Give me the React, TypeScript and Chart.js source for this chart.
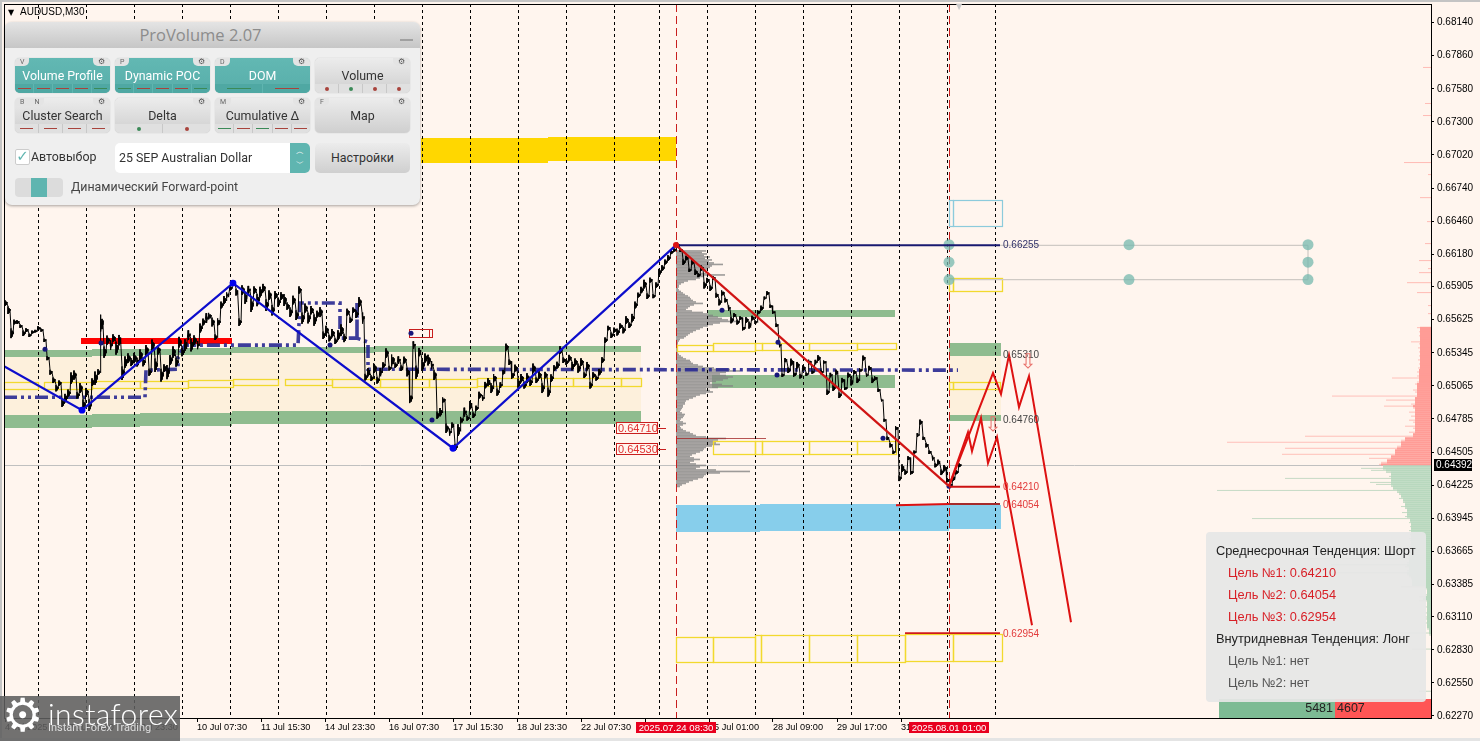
import React, { useEffect, useRef } from "react";
import { Chart, registerables } from "chart.js";

Chart.register(...registerables);

// Prices are stored in points (1e-5); bars are M30 bar numbers on the x scale.
const yTickPoints = [68140, 67860, 67580, 67300, 67020, 66740, 66460, 66180, 65905, 65625, 65345, 65065, 64785, 64505, 64225, 63945, 63665, 63385, 63110, 62830, 62550, 62270];
const xTickBars = [1, 65, 129, 193, 257, 321, 385, 449, 513, 577, 641, 705, 769, 833, 897];
const xTickLabels = ["4 Jul 2025", "7 Jul 15:30", "8 Jul 23:30", "10 Jul 07:30", "11 Jul 15:30", "14 Jul 23:30", "16 Jul 07:30", "17 Jul 15:30", "18 Jul 23:30", "22 Jul 07:30", "23 Jul 15:30", "25 Jul 01:00", "28 Jul 09:00", "29 Jul 17:00", "31 Jul 01:00"];
const separatorBars = [34, 82, 130, 178, 226, 274, 322, 370, 418, 466, 514, 562, 610, 655, 703, 751, 799, 847, 895, 943, 991];
const eventBars = [672, 945];
const lastPrice = 64392;

const priceStartBar = 1;
const priceStepBars = 3;
const pricePoints = [65766, 65706, 65511, 65605, 65605, 65571, 65511, 65537, 65494, 65520, 65528, 65554, 65537, 65452, 65300, 65181, 65113, 65046, 65088, 64919, 64961, 65003, 65130, 65156, 64986, 65046, 64902, 65012, 64902, 65096, 65130, 65181, 65596, 65351, 65452, 65410, 65469, 65384, 65452, 65173, 65266, 65300, 65266, 65300, 65266, 65325, 65266, 65368, 65181, 65410, 65240, 65368, 65156, 65215, 65181, 65283, 65351, 65266, 65435, 65351, 65410, 65494, 65410, 65452, 65410, 65554, 65605, 65639, 65656, 65605, 65478, 65605, 65749, 65791, 65833, 65893, 65935, 65859, 65605, 65876, 65808, 65876, 65749, 65876, 65791, 65859, 65893, 65749, 65833, 65706, 65833, 65774, 65825, 65791, 65740, 65689, 65791, 65664, 65876, 65639, 65723, 65639, 65706, 65622, 65672, 65689, 65494, 65537, 65469, 65511, 65444, 65494, 65537, 65469, 65689, 65622, 65706, 65672, 65774, 65639, 65139, 65181, 65130, 65215, 65113, 65181, 65240, 65342, 65215, 65283, 65240, 65283, 65215, 65283, 65181, 64961, 65410, 65181, 65351, 65240, 65300, 65283, 65240, 65156, 64817, 64842, 64944, 64707, 64673, 64732, 64546, 64690, 64775, 64842, 64791, 64902, 64817, 64876, 64986, 64961, 65071, 65096, 65046, 65130, 65012, 65071, 65181, 65393, 65266, 65156, 65215, 65088, 65130, 65071, 65130, 65096, 65215, 65113, 65156, 65046, 65156, 65012, 65130, 65215, 65240, 65368, 65283, 65266, 65300, 65232, 65266, 65215, 65266, 65156, 65232, 65071, 65156, 65130, 65181, 65283, 65452, 65554, 65494, 65537, 65520, 65571, 65537, 65622, 65579, 65639, 65749, 65833, 65876, 65926, 65825, 65960, 65825, 65918, 66028, 66062, 66113, 66147, 66198, 66215, 66257, 66215, 66113, 66147, 66045, 66113, 66028, 66003, 66062, 65918, 65960, 65893, 65977, 65833, 65774, 65850, 65791, 65723, 65622, 65664, 65605, 65639, 65554, 65622, 65579, 65639, 65605, 65689, 65723, 65808, 65850, 65740, 65689, 65579, 65410, 65156, 65283, 65198, 65266, 65164, 65240, 65147, 65215, 65164, 65266, 65181, 65266, 65300, 65181, 65266, 65012, 65156, 65046, 65181, 64986, 65113, 65046, 65156, 65096, 65181, 65113, 65198, 65300, 65156, 65215, 65113, 65130, 65029, 64944, 64775, 64622, 64563, 64504, 64707, 64283, 64368, 64334, 64453, 64334, 64504, 64648, 64758, 64622, 64563, 64504, 64453, 64393, 64419, 64334, 64368, 64266, 64224, 64283, 64334, 64393];
const priceRanges = [
  30, 40, 52, 25, 20, 18, 30, 20, 18, 16, 14, 20, 16, 18, 22, 26, 30, 34, 28, 40,
  45, 38, 60, 48, 35, 52, 60, 44, 62, 40, 70, 30, 90, 60, 48, 52, 40, 68, 55, 72,
  60, 50, 42, 55, 46, 60, 44, 52, 38, 58, 72, 46, 68, 40, 74, 52, 60, 48, 56, 44,
  60, 52, 66, 50, 44, 48, 36, 52, 34, 46, 30, 40, 36, 42, 30, 26, 30, 36, 40, 50,
  60, 44, 72, 38, 64, 56, 44, 62, 50, 56, 42, 48, 40, 62, 38, 50, 46, 52, 38, 60,
  48, 56, 44, 60, 36, 52, 40, 46, 34, 44, 30, 52, 60, 42, 36, 30, 28, 40, 52, 60,
  36, 44, 30, 52, 36, 44, 30, 50, 26, 60, 28, 40, 30, 36, 44, 52, 40, 70, 44, 60,
  48, 56, 44, 52, 38, 44, 30, 50, 38, 28, 36, 62, 34, 48, 26, 44, 30, 26, 36, 30,
  34, 42, 52, 44, 38, 30, 24, 36, 30, 40, 36, 48, 44, 36, 52, 40, 48, 30, 40, 52,
  34, 48, 40, 30, 36, 40, 30, 28, 34, 44, 38, 48, 40, 30, 44, 36, 30, 26, 34, 30,
  28, 24, 30, 26, 36, 28, 34, 40, 30, 44, 36, 26, 34, 46, 30, 26, 22, 28, 34, 30,
  26, 30, 22, 18, 26, 20, 30, 24, 18, 26, 30, 22, 28, 36, 24, 30, 20, 26, 34, 30,
  24, 30, 34, 20, 26, 18, 24, 30, 36, 24, 18, 22, 26, 16, 20, 18, 16, 20, 24, 18,
  22, 30, 36, 28, 34, 24, 30, 18, 26, 16, 24, 30, 22, 18, 28, 24, 30, 26, 30, 24,
  20, 26, 34, 22, 30, 20, 26, 18, 24, 30, 22, 18, 14, 16, 20, 24, 18, 22, 30, 40,
  26, 20, 24, 16, 20, 26, 18, 24, 20, 26, 22, 26, 30, 34, 26, 24, 28, 22,
];

const zigzagBlueBars = [0, 78, 229, 449, 672];
const zigzagBluePoints = [65232, 64859, 65935, 64537, 66257];
const zigzagRedBars = [672, 945];
const zigzagRedPoints = [66257, 64216];
const forecastABars = [945, 964, 968, 977, 984, 993, 1028];
const forecastAPoints = [64216, 64673, 64512, 64792, 64410, 64631, 63038];
const forecastBBars = [945, 989, 997, 1005, 1015, 1025, 1067];
const forecastBPoints = [64216, 65173, 64995, 65325, 64885, 65147, 63064];

const pocBars = [0, 141, 142, 174, 174, 181, 294, 296, 336, 336, 353, 353, 353, 364, 364, 954];
const pocPoints = [64969, 64969, 65198, 65206, 65308, 65410, 65410, 65766, 65766, 65469, 65469, 65766, 65469, 65435, 65206, 65198];
const pocDotBars = [41, 97, 326, 407, 428, 718, 773, 774, 879, 945];
const pocDotPoints = [65376, 65427, 65410, 65511, 64775, 65706, 65156, 65435, 64622, 64216];

const pivotDotBars = [78, 229, 449];
const pivotDotPoints = [64859, 65935, 64537];
const targetDotBars = [945, 1125, 1304, 945, 1304, 945, 1125, 1304];
const targetDotPoints = [66260, 66260, 66260, 66112, 66112, 65965, 65965, 65965];

const greenZones = [[0, 88, 65368, 65308], [88, 136, 65376, 65319], [136, 182, 65376, 65325], [182, 228, 65384, 65329], [228, 370, 65393, 65340], [370, 637, 65401, 65348], [0, 88, 64817, 64709], [88, 136, 64825, 64715], [136, 228, 64834, 64724], [228, 637, 64851, 64741], [704, 891, 65706, 65647], [708, 891, 65156, 65046], [945, 997, 65427, 65317], [945, 997, 64817, 64766]];
const bisqueZones = [[0, 88, 65308, 64817], [88, 136, 65319, 64825], [136, 228, 65329, 64834], [228, 370, 65340, 64851], [370, 637, 65348, 64851], [945, 997, 65317, 64817]];
const skyZones = [[672, 756, 64055, 63829], [756, 945, 64065, 63840], [945, 997, 64055, 63850]];
const goldZones = [[417, 544, 67163, 66951], [544, 672, 67172, 66968]];
const redBarZones = [[77, 136, 65469, 65418], [136, 228, 65473, 65422]];
const yellowBoxes = [[0, 34, 65096, 65037], [40, 88, 65096, 65037], [88, 136, 65105, 65046], [136, 184, 65105, 65046], [184, 229, 65113, 65054], [229, 274, 65122, 65071], [281, 328, 65122, 65071], [328, 376, 65122, 65054], [376, 425, 65122, 65054], [425, 473, 65122, 65054], [473, 569, 65130, 65063], [569, 617, 65130, 65063], [617, 637, 65130, 65063], [673, 709, 65410, 65359], [709, 751, 65427, 65359], [751, 758, 65427, 65368], [758, 805, 65427, 65368], [805, 853, 65427, 65368], [853, 892, 65429, 65373], [709, 751, 64597, 64487], [751, 758, 64597, 64487], [758, 805, 64597, 64487], [805, 853, 64597, 64487], [853, 892, 64597, 64487], [945, 949, 65096, 65037], [949, 996, 65096, 65037], [945, 949, 65977, 65867], [949, 998, 65977, 65867], [672, 709, 62937, 62725], [709, 751, 62937, 62725], [751, 757, 62954, 62725], [757, 805, 62954, 62729], [805, 853, 62954, 62729], [853, 901, 62954, 62729], [901, 949, 62962, 62733], [949, 998, 62962, 62733]];
const cyanBoxes = [[945, 949, 66638, 66418], [949, 998, 66638, 66418]];
const redBoxes = [[405, 425, 65545, 65477], [425, 428, 65545, 65477]];

const profileTopPoints = 66214;
const profileStepPoints = 12.7;
const profileVolumes = [30, 26, 31, 28, 34, 29, 36, 33, 38, 47, 36, 34, 31, 27, 24, 30, 49, 28, 24, 20, 12, 8, 5, 3, 3, 2, 3, 5, 7, 9, 12, 14, 15, 17, 20, 27, 18, 14, 12, 10, 16, 27, 32, 37, 42, 46, 52, 60, 44, 37, 32, 27, 24, 20, 17, 14, 12, 10, 8, 4, 3, 2, 2, 1, 1, 1, 1, 1, 2, 3, 5, 7, 10, 14, 15, 17, 22, 27, 38, 54, 64, 50, 44, 50, 57, 52, 47, 40, 34, 46, 57, 42, 30, 34, 37, 30, 24, 20, 17, 13, 10, 9, 9, 7, 7, 6, 5, 4, 6, 9, 8, 7, 5, 4, 7, 10, 7, 4, 5, 7, 10, 14, 17, 20, 30, 50, 42, 37, 40, 44, 36, 30, 28, 27, 24, 20, 16, 14, 18, 24, 18, 14, 20, 30, 24, 20, 40, 74, 44, 30, 28, 27, 22, 17, 13, 10, 6, 4];
const sellDepthBottomPoints = 64392;
const sellDepth = [52, 50, 44, 62, 40, 149, 36, 36, 146, 34, 30, 204, 30, 26, 126, 18, 22, 16, 18, 26, 16, 18, 22, 16, 20, 16, 22, 16, 18, 47, 20, 16, 45, 16, 99, 14, 16, 18, 14, 14, 16, 14, 12, 39, 14, 12, 14, 12, 13, 11, 12, 11, 13, 11, 12, 11, 12, 11, 13, 11, 12, 20, 11, 11, 12, 11, 12, 11, 11];
const sellSpikePoints = [67765, 67460, 67358, 66960, 66858, 66663, 66460, 66274, 66130, 66062, 66028, 65943, 65859, 65749, 65681, 65562];
const sellSpikeWidths = [8, 6, 8, 27, 3, 11, 4, 6, 12, 3, 12, 24, 14, 3, 3, 14];
const buyDepth = [48, 70, 60, 45, 40, 42, 146, 40, 61, 55, 40, 38, 214, 34, 32, 30, 32, 28, 28, 26, 30, 26, 24, 29, 24, 26, 179, 21, 22, 20, 21, 20, 22, 20, 21, 20, 22, 21, 20, 21, 22, 20, 21, 22, 24, 22, 129, 22, 24, 100, 26, 22, 24, 96, 24, 22, 20, 19, 19, 19, 30, 6, 4, 4, 6, 12, 8, 12, 4, 4, 6, 4, 4, 6, 4, 6, 6, 4, 6, 4, 4, 4, 2, 32, 2, 0, 0, 0, 0, 0, 0, 19, 0, 0, 0, 0, 0, 0, 0, 0, 0, 0, 0, 0, 0, 0, 0, 0, 0, 0, 0, 0, 12];
const depthBuyTotal = 5481;
const depthSellTotal = 4607;

const levelLabelTexts = ["0.66255", "0.65310", "0.64760", "0.64210", "0.64054", "0.62954"];
const levelLabelPoints = [66255, 65325, 64770, 64210, 64054, 62960];
const levelLabelColors = ["#33336b", "#444444", "#444444", "#e23b3b", "#e23b3b", "#e23b3b"];
const boxedLevelTexts = ["0.64710", "0.64530"];
const boxedLevelPoints = [64710, 64530];
const arrowBars = [1024, 989];
const arrowPoints = [65257, 64724];
const dateTagTexts = ["2025.07.24 08:30", "2025.08.01 01:00"];
const dateTagBars = [672, 945];

const buttonRows = [
  [
    { label: "Volume Profile", on: true, tags: ["V"], marks: "rrrrg" },
    { label: "Dynamic POC", on: true, tags: ["P"], marks: "grrrg" },
    { label: "DOM", on: true, tags: ["D"], marks: "gr" },
    { label: "Volume", on: false, tags: [], marks: "RGRR" },
  ],
  [
    { label: "Cluster Search", on: false, tags: ["B", "N"], marks: "rrrr" },
    { label: "Delta", on: false, tags: [], marks: "GR" },
    { label: "Cumulative Δ", on: false, tags: ["M"], marks: "grgrr" },
    { label: "Map", on: false, tags: ["F"], marks: "" },
  ],
];
const infoLines = [
  { text: "Среднесрочная Тенденция: Шорт", kind: "head" },
  { text: "Цель №1: 0.64210", kind: "red" },
  { text: "Цель №2: 0.64054", kind: "red" },
  { text: "Цель №3: 0.62954", kind: "red" },
  { text: "Внутридневная Тенденция: Лонг", kind: "head" },
  { text: "Цель №1: нет", kind: "mute" },
  { text: "Цель №2: нет", kind: "mute" },
];

const axisFont = { family: "'Liberation Sans', Arial, sans-serif", size: 10 };
const P = (v: number) => v / 1e5;
const series = (bars: number[], pts: number[]) => bars.map((b, i) => ({ x: b, y: P(pts[i]) }));

function rectOf(chart: any, z: number[]) {
  const { x, y } = chart.scales;
  const l = Math.round(x.getPixelForValue(z[0]));
  const r = Math.round(x.getPixelForValue(z[1]));
  const t = Math.round(y.getPixelForValue(P(z[2])));
  const b = Math.round(y.getPixelForValue(P(z[3])));
  return [l, t, r - l, b - t];
}

const backPlugin = {
  id: "backLayer",
  beforeDatasetsDraw(chart: any) {
    const { ctx, chartArea: a, scales } = chart;
    const { x, y } = scales;
    ctx.save();
    const fill = (list: number[][], color: string) => {
      ctx.fillStyle = color;
      list.forEach((z) => {
        const [l, t, w, h] = rectOf(chart, z);
        ctx.fillRect(l, t, w, h);
      });
    };
    fill(bisqueZones, "#fdf0dc");
    fill(greenZones, "#8fbc8f");
    fill(skyZones, "#87ceeb");
    fill(goldZones, "#ffd700");

    // last price line
    const lastY = Math.round(y.getPixelForValue(P(lastPrice))) + 0.5;
    ctx.strokeStyle = "#c0c0c0";
    ctx.lineWidth = 1;
    ctx.beginPath();
    ctx.moveTo(a.left, lastY);
    ctx.lineTo(a.right, lastY);
    ctx.stroke();

    // volume profile
    ctx.fillStyle = "rgba(130,130,130,0.78)";
    const profileLeft = x.getPixelForValue(672);
    profileVolumes.forEach((v, i) => {
      const py = y.getPixelForValue(P(profileTopPoints - i * profileStepPoints));
      ctx.fillRect(profileLeft, py, x.getPixelForValue(672 + v) - profileLeft, 1.6);
    });
    ctx.strokeStyle = "rgba(165,42,42,0.8)";
    ctx.beginPath();
    const ry = Math.round(y.getPixelForValue(P(64622))) + 0.5;
    ctx.moveTo(profileLeft, ry);
    ctx.lineTo(x.getPixelForValue(762), ry);
    ctx.stroke();

    // depth of market on the right edge
    const depth = (list: number[], solid: string, faint: string, rowY: (i: number) => number) => {
      list.forEach((v, i) => {
        const base = Math.min(v, list[i - 1] ?? v, list[i + 1] ?? v);
        const py = rowY(i);
        ctx.fillStyle = solid;
        ctx.fillRect(a.right - base, py, base, 2.2);
        if (v > base) {
          ctx.fillStyle = faint;
          ctx.fillRect(a.right - v, py + 0.5, v - base, 1);
        }
      });
    };
    depth(sellDepth, "#ff9c96", "rgba(255,156,150,0.6)", (i) => y.getPixelForValue(P(sellDepthBottomPoints + (i + 1) * 17)));
    depth(buyDepth, "#b8d8be", "rgba(160,200,170,0.6)", (i) => y.getPixelForValue(P(sellDepthBottomPoints - i * 17)));
    ctx.fillStyle = "rgba(255,156,150,0.65)";
    sellSpikePoints.forEach((p, i) => {
      ctx.fillRect(a.right - sellSpikeWidths[i], y.getPixelForValue(P(p)), sellSpikeWidths[i], 1);
    });

    // period separators
    ctx.strokeStyle = "#000";
    ctx.lineWidth = 1;
    ctx.setLineDash([3, 3]);
    separatorBars.forEach((b) => {
      const px = Math.round(x.getPixelForValue(b)) + 0.5;
      ctx.beginPath();
      ctx.moveTo(px, a.top);
      ctx.lineTo(px, a.bottom);
      ctx.stroke();
    });
    ctx.strokeStyle = "#c81e1e";
    ctx.setLineDash([8, 4]);
    eventBars.forEach((b) => {
      const px = Math.round(x.getPixelForValue(b)) + 0.5;
      ctx.beginPath();
      ctx.moveTo(px, a.top);
      ctx.lineTo(px, a.bottom);
      ctx.stroke();
    });
    ctx.setLineDash([]);

    fill(redBarZones, "#ff0000");
    const outline = (list: number[][], color: string, w: number) => {
      ctx.strokeStyle = color;
      ctx.lineWidth = w;
      list.forEach((z) => {
        const [l, t, rw, rh] = rectOf(chart, z);
        ctx.strokeRect(l + 0.5, t + 0.5, rw, rh);
      });
    };
    outline(yellowBoxes, "#f2d92e", 1.3);
    outline(cyanBoxes, "#8ccbdc", 1.2);
    outline(redBoxes, "#c81e1e", 1);
    ctx.restore();
  },
  afterDraw(chart: any) {
    const { ctx, chartArea: a, scales } = chart;
    const { x, y } = scales;
    ctx.save();
    // frame
    ctx.fillStyle = "#c4c4c4";
    ctx.fillRect(0, 0, 1480, 2);
    ctx.fillRect(0, 0, 2, 741);
    ctx.fillStyle = "#e4e4e4";
    ctx.fillRect(0, 738, 1480, 3);
    ctx.strokeStyle = "#000";
    ctx.lineWidth = 1;
    ctx.strokeRect(a.left + 0.5, a.top + 0.5, a.right - a.left, a.bottom - a.top);

    ctx.textBaseline = "middle";
    ctx.font = "10px 'Liberation Sans', Arial, sans-serif";
    ctx.fillStyle = "#000";
    ctx.fillText("AUDUSD,M30", 20, 12.5);
    ctx.font = "8px 'DejaVu Sans', sans-serif";
    ctx.fillText("▼", 8, 12.5);
    ctx.fillStyle = "#c9c9c9";
    ctx.fillText("▼", x.getPixelForValue(952), 7);

    ctx.font = "10px 'Liberation Sans', Arial, sans-serif";
    levelLabelTexts.forEach((t, i) => {
      ctx.fillStyle = levelLabelColors[i];
      ctx.fillText(t, x.getPixelForValue(999), y.getPixelForValue(P(levelLabelPoints[i])));
    });

    // boxed levels
    ctx.font = "11px 'Liberation Sans', Arial, sans-serif";
    boxedLevelTexts.forEach((t, i) => {
      const py = Math.round(y.getPixelForValue(P(boxedLevelPoints[i])));
      const l = x.getPixelForValue(612);
      ctx.fillStyle = "#fff5ee";
      ctx.fillRect(l, py - 5.5, 41, 11);
      ctx.strokeStyle = "#c81e1e";
      ctx.strokeRect(l + 0.5, py - 5.5, 41, 11);
      ctx.beginPath();
      ctx.moveTo(l + 41, py + 0.5);
      ctx.lineTo(l + 50, py + 0.5);
      ctx.stroke();
      ctx.fillStyle = "#e03030";
      ctx.fillText(t, l + 2, py + 0.5);
    });

    // forecast arrows
    ctx.font = "20px 'DejaVu Sans', sans-serif";
    ctx.fillStyle = "#e8706a";
    ctx.textAlign = "center";
    arrowBars.forEach((b, i) => {
      ctx.fillText("⇩", x.getPixelForValue(b), y.getPixelForValue(P(arrowPoints[i])));
    });
    ctx.textAlign = "left";

    // current price tag
    const ly = Math.round(y.getPixelForValue(P(lastPrice)));
    ctx.fillStyle = "#000";
    ctx.fillRect(a.right + 3, ly - 6, 38, 12);
    ctx.fillStyle = "#fff";
    ctx.font = "10px 'Liberation Sans', Arial, sans-serif";
    ctx.fillText((lastPrice / 1e5).toFixed(5), a.right + 5, ly + 0.5);

    // date tags
    ctx.font = "9.6px 'Liberation Sans', Arial, sans-serif";
    dateTagTexts.forEach((t, i) => {
      const cx = x.getPixelForValue(dateTagBars[i]);
      ctx.fillStyle = "#e8001e";
      ctx.fillRect(cx - 40, a.bottom + 4, 80, 11);
      ctx.fillStyle = "#fff";
      ctx.textAlign = "center";
      ctx.fillText(t, cx, a.bottom + 10);
      ctx.textAlign = "left";
    });

    // depth totals
    const split = x.getPixelForValue(1331);
    const left = x.getPixelForValue(1215);
    ctx.fillStyle = "#7dbb94";
    ctx.fillRect(left, a.bottom - 19, split - left, 19);
    ctx.fillStyle = "#ff5555";
    ctx.fillRect(split, a.bottom - 19, a.right - split, 19);
    ctx.font = "12.5px 'Liberation Sans', Arial, sans-serif";
    ctx.fillStyle = "#222";
    ctx.textAlign = "right";
    ctx.fillText(String(depthBuyTotal), split - 2, a.bottom - 9);
    ctx.textAlign = "left";
    ctx.fillText(String(depthSellTotal), split + 2, a.bottom - 9);
    ctx.restore();
  },
};

function ChartCanvas() {
  const ref = useRef<HTMLCanvasElement | null>(null);
  useEffect(() => {
    const line = (data: any[], color: string, width: number, order: number, extra: any = {}) => ({
      type: "line",
      data,
      borderColor: color,
      backgroundColor: color,
      borderWidth: width,
      pointRadius: 0,
      tension: 0,
      fill: false,
      order,
      ...extra,
    });
    const dots = (data: any[], color: string, radius: number, order: number) => ({
      type: "line",
      data,
      showLine: false,
      borderColor: color,
      backgroundColor: color,
      pointRadius: radius,
      pointBorderWidth: 0,
      order,
    });
    // each stored close carries its stored high-low range, drawn as packed sticks
    const candles = pricePoints.flatMap((p, i) => {
      const b = priceStartBar + i * priceStepBars;
      const r = (priceRanges[i] ?? 20) * 0.8;
      return [
        { x: b, y: P(p + r) },
        { x: b, y: P(p - r) },
        { x: b + 1, y: P(p + r * 0.5) },
        { x: b + 1, y: P(p - r * 0.7) },
        { x: b + 2, y: P(p + r * 0.3) },
        { x: b + 2, y: P(p - r * 0.2) },
      ];
    });
    const chart = new Chart(ref.current as HTMLCanvasElement, {
      type: "line",
      data: {
        datasets: [
          line(series(pocBars, pocPoints), "rgba(40,40,145,0.9)", 3.6, 8, { borderDash: [13, 4, 3, 4, 3, 4] }),
          dots(series(pocDotBars, pocDotPoints), "#16167a", 2.5, 4),
          line(candles, "#000000", 1, 5),
          line(series([996, 1304], [66255, 66255]), "#cfcac5", 1.2, 7),
          line(series([945, 1304], [65965, 65965]), "#cfcac5", 1.2, 7),
          line(series([1304, 1304], [66255, 65965]), "#cfcac5", 1.2, 7),
          dots(series(targetDotBars, targetDotPoints), "rgba(118,184,174,0.75)", 5.5, 6),
          line(series([672, 996], [66255, 66255]), "#191970", 2, 3),
          line(series([945, 996], [64210, 64210]), "#cc1111", 2, 3),
          line(series([892, 945], [64054, 64065]), "#dd1111", 2, 3),
          line(series([945, 996], [64065, 64065]), "#a52a2a", 2, 3),
          line(series([901, 996], [62972, 62972]), "#d01a1a", 1.6, 3),
          line(series(forecastABars, forecastAPoints), "#dd1111", 2, 2),
          line(series(forecastBBars, forecastBPoints), "#dd1111", 2, 2),
          line(series(zigzagBlueBars, zigzagBluePoints), "#0d0dcc", 2.2, 1),
          line(series(zigzagRedBars, zigzagRedPoints), "#d01414", 2.2, 1),
          dots(series(pivotDotBars, pivotDotPoints), "#0000ee", 3.4, 0),
          dots(series([672], [66257]), "#dd1111", 3, 0),
        ] as any,
      },
      plugins: [backPlugin],
      options: {
        animation: false,
        responsive: false,
        devicePixelRatio: 1,
        layout: { autoPadding: false, padding: { left: 4, top: 4, right: 0, bottom: 0 } },
        plugins: { legend: { display: false }, tooltip: { enabled: false } },
        scales: {
          x: {
            type: "linear",
            min: 0,
            max: 1427,
            border: { display: false },
            grid: { drawOnChartArea: false, drawTicks: true, tickLength: 4, color: "#000" },
            ticks: {
              autoSkip: false,
              maxRotation: 0,
              minRotation: 0,
              align: "start",
              padding: 0,
              color: "#000",
              font: { ...axisFont, size: 9.2 },
              callback: (_v: any, i: number) => xTickLabels[i],
            },
            afterBuildTicks: (s: any) => {
              s.ticks = xTickBars.map((value) => ({ value }));
            },
            afterFit: (s: any) => {
              s.height = 23;
              s.paddingLeft = 0;
              s.paddingRight = 0;
            },
          },
          y: {
            type: "linear",
            position: "right",
            min: 0.62253,
            max: 0.68298,
            border: { display: false },
            grid: { drawOnChartArea: false, drawTicks: true, tickLength: 3, color: "#000" },
            ticks: {
              padding: 3,
              color: "#000",
              font: axisFont,
              callback: (v: any) => Number(v).toFixed(5),
            },
            afterBuildTicks: (s: any) => {
              s.ticks = yTickPoints.map((p) => ({ value: P(p) }));
            },
            afterFit: (s: any) => {
              s.width = 49;
              s.paddingTop = 0;
              s.paddingBottom = 0;
            },
          },
        },
      } as any,
    });
    return () => chart.destroy();
  }, []);
  return <canvas ref={ref} width={1480} height={741} style={{ position: "absolute", left: 0, top: 0, width: 1480, height: 741 }} />;
}

const uiFont = "Roboto, 'Open Sans', sans-serif";
const uiSize = 12.4;

function Strip({ marks, on }: { marks: string; on: boolean }) {
  if (!marks) return null;
  return (
    <div style={{ position: "absolute", left: 0, right: 0, bottom: 0, height: 9, display: "flex", background: on ? "#4fa8a3" : "#e0e0e0", borderRadius: "0 0 5px 5px", overflow: "hidden" }}>
      {marks.split("").map((m, i) => {
        const dot = m === "R" || m === "G";
        const red = m === "r" || m === "R";
        const color = red ? "#a8433c" : "#3b8a58";
        return (
          <div key={i} style={{ flex: 1, display: "flex", alignItems: "center", justifyContent: "center", borderLeft: i ? `1px solid ${on ? "#5fb5b0" : "#c8c8c8"}` : "none" }}>
            <div style={{ width: dot ? 4 : marks.length === 2 ? 24 : 13, height: dot ? 4 : 1, borderRadius: dot ? 2 : 0, background: color }} />
          </div>
        );
      })}
    </div>
  );
}

function PanelButton({ b, x, y }: { b: any; x: number; y: number }) {
  const bg = b.on ? "linear-gradient(#62b8b3,#58aeaa)" : "linear-gradient(#ececec,#cfcfcf)";
  return (
    <div style={{ position: "absolute", left: x, top: y, width: 95, height: 35, borderRadius: 5, background: bg, boxShadow: "0 0 1px #aaa" }}>
      <div style={{ position: "absolute", left: 0, right: 0, top: 10, textAlign: "center", fontFamily: uiFont, fontSize: uiSize, color: b.on ? "#fff" : "#333" }}>{b.label}</div>
      {b.tags.length > 0 && (
        <div style={{ position: "absolute", left: 0, top: 0, display: "flex", height: 8, background: "#e4e4e4", borderRadius: "4px 0 5px 0", fontFamily: uiFont, fontSize: 7, color: "#666", lineHeight: "8px" }}>
          {b.tags.map((t: string) => (
            <span key={t} style={{ padding: "0 5px" }}>{t}</span>
          ))}
        </div>
      )}
      <div style={{ position: "absolute", right: 0, top: 0, width: 17, height: 8, background: "#e4e4e4", borderRadius: "0 4px 0 5px", fontFamily: "'DejaVu Sans', sans-serif", fontSize: 8, color: "#555", lineHeight: "8px", textAlign: "center" }}>⚙</div>
      <Strip marks={b.marks} on={b.on} />
    </div>
  );
}

function ProVolumePanel() {
  const xs = [10, 110, 210, 310];
  const ys = [36, 76];
  return (
    <div style={{ position: "absolute", left: 5, top: 22, width: 415, height: 183, borderRadius: 7, background: "#efefef", boxShadow: "0 1px 3px rgba(0,0,0,0.35)", overflow: "hidden" }}>
      <div style={{ position: "absolute", left: 0, right: 0, top: 0, height: 26, background: "linear-gradient(#e4e4e4,#c6c6c6)", textAlign: "center", fontFamily: "'Open Sans', sans-serif", fontSize: 16.5, lineHeight: "26px", color: "#8c8c8c" }}>
        <span style={{ marginRight: 24 }}>ProVolume 2.07</span>
      </div>
      <div style={{ position: "absolute", left: 395, top: 17, width: 13, height: 2, background: "#a0a0a0" }} />
      {buttonRows.map((row, r) => row.map((b, c) => <PanelButton key={b.label} b={b} x={xs[c]} y={ys[r]} />))}
      <div style={{ position: "absolute", left: 10, top: 127, width: 13, height: 14, background: "#fff", border: "1px solid #ccc", borderRadius: 2, color: "#5fb5b0", fontFamily: "'DejaVu Sans', sans-serif", fontSize: 15, lineHeight: "12px", textAlign: "center" }}>✓</div>
      <div style={{ position: "absolute", left: 26, top: 127, fontFamily: uiFont, fontSize: uiSize, color: "#333" }}>Автовыбор</div>
      <div style={{ position: "absolute", left: 110, top: 121, width: 195, height: 30, background: "#fff", borderRadius: 5, overflow: "hidden" }}>
        <div style={{ position: "absolute", left: 4, top: 7, fontFamily: uiFont, fontSize: uiSize, color: "#333" }}>25 SEP Australian Dollar</div>
        <div style={{ position: "absolute", right: 0, top: 0, width: 20, height: 30, background: "#5fb5b0", color: "#fff", fontFamily: "'DejaVu Sans', sans-serif", fontSize: 8, lineHeight: "12px", textAlign: "center", paddingTop: 3, boxSizing: "border-box" }}>
          ︿<br />﹀
        </div>
      </div>
      <div style={{ position: "absolute", left: 310, top: 121, width: 95, height: 30, borderRadius: 5, background: "linear-gradient(#ececec,#cfcfcf)", textAlign: "center", fontFamily: uiFont, fontSize: uiSize, lineHeight: "30px", color: "#333" }}>Настройки</div>
      <div style={{ position: "absolute", left: 10, top: 156, width: 48, height: 19, borderRadius: 4, background: "#dcdcdc", overflow: "hidden" }}>
        <div style={{ position: "absolute", left: 16, top: 0, width: 16, height: 19, background: "#5fb5b0" }} />
      </div>
      <div style={{ position: "absolute", left: 66, top: 157, fontFamily: uiFont, fontSize: uiSize, color: "#444" }}>Динамический Forward-point</div>
    </div>
  );
}

function InfoPanel() {
  const colors: any = { head: "#222", red: "#d81f26", mute: "#555" };
  return (
    <div style={{ position: "absolute", left: 1206, top: 532, width: 220, height: 170, borderRadius: 4, background: "rgba(230,230,230,0.93)" }}>
      {infoLines.map((l, i) => (
        <div key={i} style={{ position: "absolute", left: l.kind === "head" ? 10 : 22, top: 10 + i * 22, fontFamily: "'Liberation Sans', Arial, sans-serif", fontSize: 12.8, lineHeight: "18px", whiteSpace: "nowrap", color: colors[l.kind] }}>{l.text}</div>
      ))}
    </div>
  );
}

function Watermark() {
  return (
    <div style={{ position: "absolute", left: 0, top: 696, width: 180, height: 45, background: "rgba(95,95,95,0.88)", color: "#fff" }}>
      <div style={{ position: "absolute", left: 2, top: -4, fontFamily: "'DejaVu Sans', sans-serif", fontSize: 46, lineHeight: "46px" }}>⚙</div>
      <div style={{ position: "absolute", left: 48, top: -1, fontFamily: "Lato, 'Open Sans', sans-serif", fontWeight: 300, fontSize: 30, lineHeight: "36px", letterSpacing: 0.4 }}>instaforex</div>
      <div style={{ position: "absolute", left: 48, top: 25, fontFamily: "Roboto, sans-serif", fontSize: 11, lineHeight: "14px", color: "#ddd" }}>Instant Forex Trading</div>
    </div>
  );
}

export default function App() {
  return (
    <div style={{ position: "fixed", left: 0, top: 0, width: 1480, height: 741, background: "#fff5ee", overflow: "hidden" }}>
      <ChartCanvas />
      <ProVolumePanel />
      <InfoPanel />
      <Watermark />
    </div>
  );
}
